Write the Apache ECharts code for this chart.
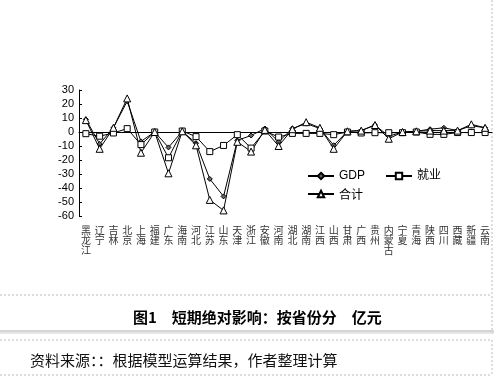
<!DOCTYPE html>
<html>
<head>
<meta charset="utf-8">
<script src="https://cdn.jsdelivr.net/npm/echarts@6/dist/echarts.min.js"></script>
<style>
  html, body { margin: 0; padding: 0; background: #fff; }
  #main { width: 494px; height: 376px; }
</style>
</head>
<body>
<div id="main"></div>
<script>
var provinces = ['黑龙江', '辽宁', '吉林', '北京', '上海', '福建', '广东', '海南', '河北', '江苏',
    '山东', '天津', '浙江', '安徽', '河南', '湖北', '湖南', '江西', '山西', '甘肃',
    '广西', '贵州', '内蒙古', '宁夏', '青海', '陕西', '四川', '西藏', '新疆', '云南'];
var gdpValues = [9, -8.5, 3, 22, -6.7, 0, -11, 0.5, -8, -33.5,
    -46, -6, -2.5, 2.5, -7, 2.5, 6, 2.5, -9.5, 0.5,
    1, 5, -3, 0, 0.5, 2, 3, 1, 4.5, 3];
var jobValues = [-1.2, -3, -0.7, 2.4, -9, 0, -18.4, 0.7, -3.3, -14,
    -9.6, -1.9, -11.5, 0.7, -3.6, -1, -1, -1, -1.9, 0,
    -0.7, -0.5, -0.5, -0.5, 0, -1.7, -1.7, -0.4, -0.4, -0.4];
var totalValues = [8.5, -12, 3, 24, -14.8, 0, -29.5, 0.5, -9.5, -48.5,
    -56, -7, -14, 1.5, -10, 2, 7, 3, -12, 0.5,
    1, 5, -4.8, 0, 0.5, 1, 1, 1, 5.5, 3];
var yTicks = [-60, 30, 10]; // min, max, interval

var chartDom = document.getElementById('main');
var myChart = echarts.init(chartDom);
var option;

var lineStyle = { color: '#000', width: 1 };

option = {
    animation: false,
    backgroundColor: '#fff',
    grid: { left: 79, right: 2, top: 90, bottom: 160 },
    legend: [
        {
            data: ['GDP', '就业'],
            left: 302,
            top: 165,
            itemWidth: 26,
            itemHeight: 8,
            itemGap: 20,
            textStyle: { fontSize: 12, color: '#000', fontFamily: 'Liberation Sans, Noto Sans CJK SC' }
        },
        {
            data: ['合计'],
            left: 302,
            top: 183,
            itemWidth: 26,
            itemHeight: 8,
            textStyle: { fontSize: 12, color: '#000', fontFamily: 'Noto Sans CJK SC' }
        }
    ],
    xAxis: {
        type: 'category',
        data: provinces,
        boundaryGap: true,
        axisLine: { lineStyle: { color: '#000', width: 1 } },
        axisTick: { inside: true, length: 4, lineStyle: { color: '#000' } },
        axisLabel: {
            interval: 0,
            margin: 9,
            fontSize: 10,
            lineHeight: 10,
            color: '#333',
            fontFamily: 'Noto Sans CJK SC',
            verticalAlign: 'top',
            formatter: function (v) { return v.split('').join('\n'); }
        }
    },
    yAxis: {
        type: 'value',
        min: yTicks[0],
        max: yTicks[1],
        interval: yTicks[2],
        splitLine: { show: false },
        axisLine: { show: true, lineStyle: { color: '#000', width: 1 } },
        axisTick: { show: true, inside: true, length: 3, lineStyle: { color: '#000' } },
        axisLabel: { fontSize: 11, color: '#000', margin: 5, fontFamily: 'Liberation Sans' }
    },
    series: [
        {
            name: 'GDP',
            type: 'line',
            data: gdpValues,
            symbol: 'diamond',
            symbolSize: 5,
            lineStyle: lineStyle,
            itemStyle: { color: '#666', borderColor: '#000', borderWidth: 1 }
        },
        {
            name: '就业',
            type: 'line',
            data: jobValues,
            symbol: 'rect',
            symbolSize: 6,
            lineStyle: lineStyle,
            itemStyle: { color: '#fff', borderColor: '#000', borderWidth: 1 }
        },
        {
            name: '合计',
            type: 'line',
            data: totalValues,
            symbol: 'triangle',
            symbolSize: 7,
            lineStyle: lineStyle,
            itemStyle: { color: '#fff', borderColor: '#000', borderWidth: 1 }
        }
    ],
    graphic: [
        { type: 'line', shape: { x1: 492, y1: 0, x2: 492, y2: 333 }, style: { stroke: '#bbb', lineDash: [2, 2], lineWidth: 1 } },
        { type: 'line', shape: { x1: 0, y1: 295, x2: 492, y2: 295 }, style: { stroke: '#bbb', lineDash: [2, 2], lineWidth: 1 } },
        {
            type: 'text', left: 133, top: 310,
            style: {
                text: '图1　短期绝对影响：按省份分　亿元',
                fontSize: 15, fontWeight: 'bold', fill: '#000',
                fontFamily: 'Noto Sans CJK SC'
            }
        },
        { type: 'line', shape: { x1: 0, y1: 331, x2: 494, y2: 331 }, style: { stroke: '#aaa', lineWidth: 1 } },
        { type: 'line', shape: { x1: 0, y1: 333, x2: 494, y2: 333 }, style: { stroke: '#ccc', lineWidth: 1 } },
        { type: 'line', shape: { x1: 0, y1: 340, x2: 492, y2: 340 }, style: { stroke: '#bbb', lineDash: [2, 2], lineWidth: 1 } },
        { type: 'line', shape: { x1: 492, y1: 340, x2: 492, y2: 376 }, style: { stroke: '#bbb', lineDash: [2, 2], lineWidth: 1 } },
        { type: 'line', shape: { x1: 0, y1: 375, x2: 492, y2: 375 }, style: { stroke: '#bbb', lineDash: [2, 2], lineWidth: 1 } },
        {
            type: 'text', left: 30, top: 353,
            style: {
                text: '资料来源：：根据模型运算结果，作者整理计算',
                fontSize: 15, fill: '#111',
                fontFamily: 'Noto Sans CJK SC'
            }
        }
    ]
};

option && myChart.setOption(option);
</script>
</body>
</html>
